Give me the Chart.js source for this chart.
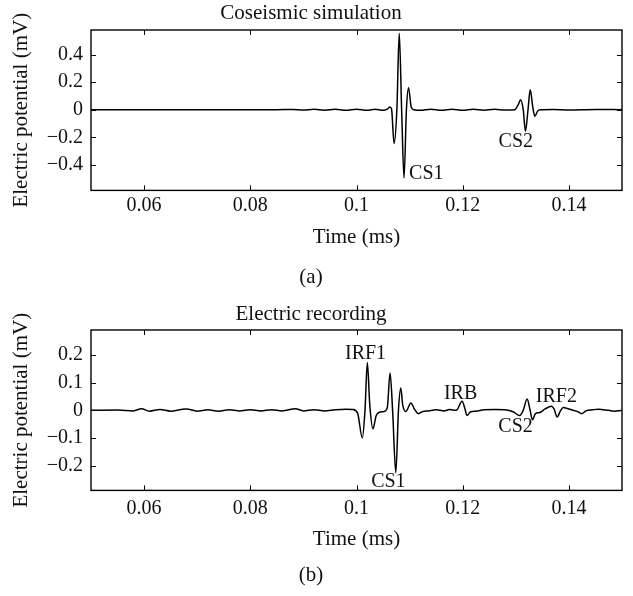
<!DOCTYPE html>
<html>
<head>
<meta charset="utf-8">
<title>Coseismic simulation / Electric recording</title>
<script src="https://cdn.jsdelivr.net/npm/chart.js@4.4.0/dist/chart.umd.min.js"></script>
<style>
	html, body { margin: 0; padding: 0; background: #fff; }
	canvas { display: block; }
</style>
</head>
<body>
<canvas id="chart-a" width="633" height="300"></canvas>
<canvas id="chart-b" width="633" height="296"></canvas>
<script>
// Shared x ticks (ms)
var xTicks = [0.06, 0.08, 0.1, 0.12, 0.14];

// (a) Coseismic simulation
var simTime = [
	0.05, 0.06, 0.07, 0.08, 0.085, 0.088, 0.09, 0.092, 0.094, 0.096, 0.098, 0.1,
	0.102, 0.1035, 0.105, 0.1058, 0.1063, 0.1066, 0.10708, 0.1076, 0.10805, 0.1085,
	0.10895, 0.1094, 0.1098, 0.1103, 0.1108, 0.112, 0.114, 0.116, 0.118, 0.12,
	0.122, 0.124, 0.126, 0.128, 0.1298, 0.1305, 0.1309, 0.1314, 0.13182, 0.1323,
	0.13271, 0.1332, 0.1336, 0.1341, 0.1346, 0.137, 0.14, 0.145, 0.15
];
var simValue = [
	0, 0, 0, 0, 0, 0.002, -0.002, 0.003, -0.003, 0.004, -0.004, 0.004,
	-0.004, 0.004, -0.004, 0.004, 0.02, 0.005, -0.245, 0, 0.555, 0,
	-0.495, 0, 0.16, 0.02, 0, -0.004, 0.004, -0.004, 0.004, -0.004,
	0.004, -0.003, 0.003, -0.002, 0, 0.04, 0.072, 0, -0.157, 0,
	0.144, 0.02, -0.048, -0.01, 0, 0.002, -0.002, 0.002, 0
];
var simYTicks = [-0.4, -0.2, 0, 0.2, 0.4];
var simLabels = ['CS1', 'CS2'];
var simLabelTime = [0.1099, 0.13];
var simLabelValue = [-0.467, -0.235];
var simLabelAlign = ['left', 'center'];

// (b) Electric recording
var recTime = [
	0.05, 0.055, 0.058, 0.0595, 0.061, 0.063, 0.065, 0.067, 0.068, 0.07, 0.072,
	0.074, 0.076, 0.078, 0.08, 0.082, 0.084, 0.086, 0.0885, 0.09, 0.092, 0.094,
	0.096, 0.098, 0.0993, 0.1002, 0.1011, 0.1016, 0.10204, 0.1025, 0.1031, 0.1037,
	0.1042, 0.1052, 0.1058, 0.10632, 0.1068, 0.1074, 0.1079, 0.10834, 0.1087,
	0.10929, 0.11024, 0.1109, 0.11162, 0.1125, 0.1135, 0.115, 0.1165, 0.1175,
	0.1188, 0.11989, 0.1205, 0.12078, 0.1215, 0.1225, 0.124, 0.126, 0.128, 0.1295,
	0.13072, 0.1314, 0.13213, 0.1327, 0.13313, 0.1337, 0.1345, 0.1355, 0.13672,
	0.1372, 0.1378, 0.1384, 0.13894, 0.1398, 0.1408, 0.1416, 0.1424, 0.1432,
	0.1445, 0.1455, 0.1465, 0.1475, 0.1485, 0.15
];
var recValue = [
	0, 0.001, -0.002, 0.006, -0.003, 0.003, -0.003, 0.003, 0.005, -0.003, 0.002,
	-0.003, 0.002, -0.002, 0.002, -0.002, 0.002, -0.002, 0.006, -0.002, 0.002, -0.002,
	0.002, 0.004, 0.003, -0.01, -0.1, 0, 0.173, 0.02, -0.067, -0.02,
	-0.008, -0.004, 0.01, 0.135, 0, -0.226, 0, 0.081, 0.02,
	-0.004, 0.027, 0.005, -0.012, -0.004, -0.002, 0.002, -0.002, 0.003,
	0, 0.033, 0, -0.019, -0.005, -0.003, 0.002, 0.003, 0.002, -0.005,
	-0.019, 0, 0.041, 0, -0.034, -0.012, -0.008, 0.005, 0.015,
	0.005, -0.024, -0.002, 0.01, 0.006, 0, -0.004, -0.012, -0.002,
	0.002, 0.004, 0.002, 0, -0.003, 0
];
var recYTicks = [-0.2, -0.1, 0, 0.1, 0.2];
var recLabels = ['IRF1', 'CS1', 'IRB', 'CS2', 'IRF2'];
var recLabelTime = [0.1017, 0.106, 0.1196, 0.12995, 0.13763];
var recLabelValue = [0.206, -0.26, 0.061, -0.059, 0.049];
var recLabelAlign = ['center', 'center', 'center', 'center', 'center'];

var FONT = '"Liberation Serif", "DejaVu Serif", serif';
Chart.defaults.font.family = FONT;
Chart.defaults.font.size = 20;
Chart.defaults.color = '#111';

function fmtTick(v) {
	if (Math.abs(v) < 1e-9) return '0';
	return String(+v.toFixed(3)).replace('-', '\u2212');
}

// box around the plot area with inward ticks on all four sides
var boxTicks = {
	id: 'boxTicks',
	afterDraw: function (chart) {
		var ctx = chart.ctx, a = chart.chartArea;
		var x = chart.scales.x, y = chart.scales.y;
		var len = 5;
		ctx.save();
		ctx.strokeStyle = '#000';
		ctx.lineWidth = 1;
		ctx.beginPath();
		x.ticks.forEach(function (t) {
			var px = Math.round(x.getPixelForValue(t.value)) + 0.5;
			ctx.moveTo(px, a.bottom); ctx.lineTo(px, a.bottom - len);
			ctx.moveTo(px, a.top); ctx.lineTo(px, a.top + len);
		});
		y.ticks.forEach(function (t) {
			var py = Math.round(y.getPixelForValue(t.value)) + 0.5;
			ctx.moveTo(a.left, py); ctx.lineTo(a.left + len, py);
			ctx.moveTo(a.right, py); ctx.lineTo(a.right - len, py);
		});
		ctx.stroke();
		ctx.lineWidth = 1.4;
		ctx.strokeRect(a.left, a.top, a.right - a.left, a.bottom - a.top);
		ctx.restore();
	}
};

// text next to the peaks, placed in data coordinates
var peakLabels = {
	id: 'peakLabels',
	afterDatasetsDraw: function (chart, args, opts) {
		var ctx = chart.ctx, x = chart.scales.x, y = chart.scales.y;
		ctx.save();
		ctx.fillStyle = '#111';
		ctx.font = '20px ' + FONT;
		ctx.textBaseline = 'middle';
		opts.text.forEach(function (txt, i) {
			ctx.textAlign = opts.align[i];
			ctx.fillText(txt, x.getPixelForValue(opts.t[i]), y.getPixelForValue(opts.v[i]));
		});
		ctx.restore();
	}
};

function makeChart(id, cfg) {
	var points = cfg.time.map(function (t, i) { return { x: t, y: cfg.value[i] }; });

	return new Chart(document.getElementById(id), {
		type: 'line',
		data: {
			datasets: [{
				data: points,
				borderColor: '#000',
				borderWidth: 1.5,
				pointRadius: 0,
				cubicInterpolationMode: 'monotone',
				fill: false
			}]
		},
		options: {
			responsive: false,
			animation: false,
			events: [],
			layout: { padding: { left: 0, right: 11, top: 0, bottom: 0 } },
			plugins: {
				legend: { display: false },
				tooltip: { enabled: false },
				title: {
					display: true,
					text: cfg.title,
					color: '#111',
					font: { size: 21, weight: 'normal' },
					padding: cfg.titlePad
				},
				subtitle: {
					display: true,
					position: 'bottom',
					text: cfg.caption,
					color: '#111',
					font: { size: 21, weight: 'normal' },
					padding: { top: 0, bottom: cfg.captionPad }
				},
				peakLabels: {
					text: cfg.labels,
					t: cfg.labelTime,
					v: cfg.labelValue,
					align: cfg.labelAlign
				}
			},
			scales: {
				x: {
					type: 'linear',
					min: 0.05,
					max: 0.15,
					grid: { display: false, drawTicks: false },
					border: { display: false },
					afterBuildTicks: function (s) {
						s.ticks = xTicks.map(function (v) { return { value: v }; });
					},
					afterFit: function (s) { s.height = cfg.xAxisHeight; },
					ticks: {
						padding: cfg.xTickPad,
						maxRotation: 0,
						callback: function (v) { return fmtTick(v); }
					},
					title: {
						display: true,
						text: 'Time (ms)',
						color: '#111',
						font: { size: 21 },
						padding: { top: 0, bottom: cfg.xTitlePad }
					}
				},
				y: {
					min: cfg.yMin,
					max: cfg.yMax,
					grid: { display: false, drawTicks: false },
					border: { display: false },
					afterBuildTicks: function (s) {
						s.ticks = cfg.yTicks.map(function (v) { return { value: v }; });
					},
					afterFit: function (s) { s.width = 91; },
					ticks: {
						padding: 8,
						callback: function (v) { return fmtTick(v); }
					},
					title: {
						display: true,
						text: 'Electric potential (mV)',
						color: '#111',
						font: { size: 21 },
						padding: { top: 9, bottom: 0 }
					}
				}
			}
		},
		plugins: [boxTicks, peakLabels]
	});
}

makeChart('chart-a', {
	title: 'Coseismic simulation',
	caption: '(a)',
	time: simTime,
	value: simValue,
	yMin: -0.585,
	yMax: 0.578,
	yTicks: simYTicks,
	labels: simLabels,
	labelTime: simLabelTime,
	labelValue: simLabelValue,
	labelAlign: simLabelAlign,
	titlePad: { top: 0.4, bottom: 4.4 },
	captionPad: 10.1,
	xAxisHeight: 74.3,
	xTickPad: 3.7,
	xTitlePad: 14.7
});

makeChart('chart-b', {
	title: 'Electric recording',
	caption: '(b)',
	time: recTime,
	value: recValue,
	yMin: -0.29,
	yMax: 0.291,
	yTicks: recYTicks,
	labels: recLabels,
	labelTime: recLabelTime,
	labelValue: recLabelValue,
	labelAlign: recLabelAlign,
	titlePad: { top: 1.4, bottom: 3.4 },
	captionPad: 7.7,
	xAxisHeight: 72.7,
	xTickPad: 6,
	xTitlePad: 11.1
});
</script>
</body>
</html>
